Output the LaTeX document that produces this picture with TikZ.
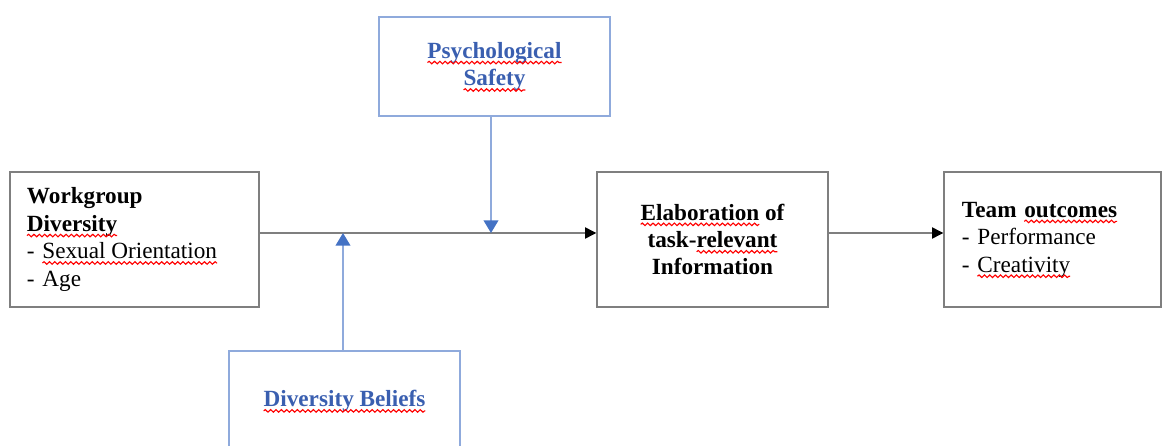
\documentclass[tikz,border=0pt]{standalone}
\usepackage{fontspec}
\setmainfont{Liberation Serif}
\usetikzlibrary{arrows.meta,decorations.pathmorphing}
\definecolor{boxgray}{HTML}{7F7F7F}
\definecolor{lineblue}{HTML}{8FAADC}
\definecolor{tipblue}{HTML}{4472C4}
\definecolor{textblue}{HTML}{3A5FB0}
% red wavy underline, as the screenshot shows it
\newcommand{\spell}[1]{\tikz[baseline=(sp.base)]{\node[draw=none,inner sep=0pt,outer sep=0pt,minimum width=0pt,minimum height=0pt,text width=,align=none] (sp) {#1};
  \draw[overlay,red,line width=0.8pt,decorate,decoration={snake,amplitude=0.9pt,segment length=3.8pt}] ([yshift=-3pt]sp.base west) -- ([yshift=-3pt]sp.base east);}}

\begin{document}
\begin{tikzpicture}[x=0.025cm,y=-0.025cm,
	graybox/.style={draw=boxgray,line width=1pt,minimum height=3.375cm,font=\fontsize{16.5}{19.5}\selectfont},
	bluebox/.style={draw=lineblue,line width=1pt,minimum width=5.775cm,text=textblue,align=center,font=\bfseries\fontsize{16.5}{19.5}\selectfont},
	mainarrow/.style={draw=boxgray,line width=1pt,-{Triangle[length=8pt,width=8pt,color=black]}},
	bluearrow/.style={draw=lineblue,line width=1pt,-{Triangle[length=9pt,width=10.5pt,color=tipblue]}}]
	\useasboundingbox (0,0) rectangle (1162,446);
	\clip (0,0) rectangle (1162,446);
	
	%Moderators
	\node[bluebox,minimum height=2.475cm] (safety) at (494.5,66.5) {\spell{Psychological}\\\spell{Safety}};
	\node[bluebox,minimum height=2.5cm] (beliefs) at (344.5,401) {\spell{Diversity Beliefs}};
	
	%Main chain
	\node[graybox,inner xsep=0.425cm,text width=5.375cm,align=left] (diversity) at (134.5,239.5)
		{\textbf{Workgroup}\\\textbf{\spell{Diversity}}\\- \spell{Sexual Orientation}\\- Age};
	\node[graybox,minimum width=5.775cm,inner sep=0pt,align=center,font=\bfseries\fontsize{16.5}{19.5}\selectfont] (elab) at (712.5,239.5)
		{\spell{Elaboration} of\\task-\spell{relevant}\\Information};
	\node[graybox,inner xsep=0.45cm,text width=4.525cm,align=left] (outcomes) at (1052.5,239.5)
		{\textbf{Team \spell{outcomes}}\\- Performance\\- \spell{Creativity}};
	
	\draw[mainarrow] ([yshift=0.1625cm]diversity.east) -- ([yshift=0.1625cm]elab.west);
	\draw[mainarrow] ([yshift=0.1625cm]elab.east) -- ([yshift=0.1625cm]outcomes.west);
	
	%Moderating arrows
	\coordinate (safetyin) at (491,233);
	\coordinate (beliefsin) at (343,233);
	\draw[bluearrow] (safety.south -| safetyin) -- (safetyin);
	\draw[bluearrow] (beliefs.north -| beliefsin) -- (beliefsin);
\end{tikzpicture}
\end{document}
